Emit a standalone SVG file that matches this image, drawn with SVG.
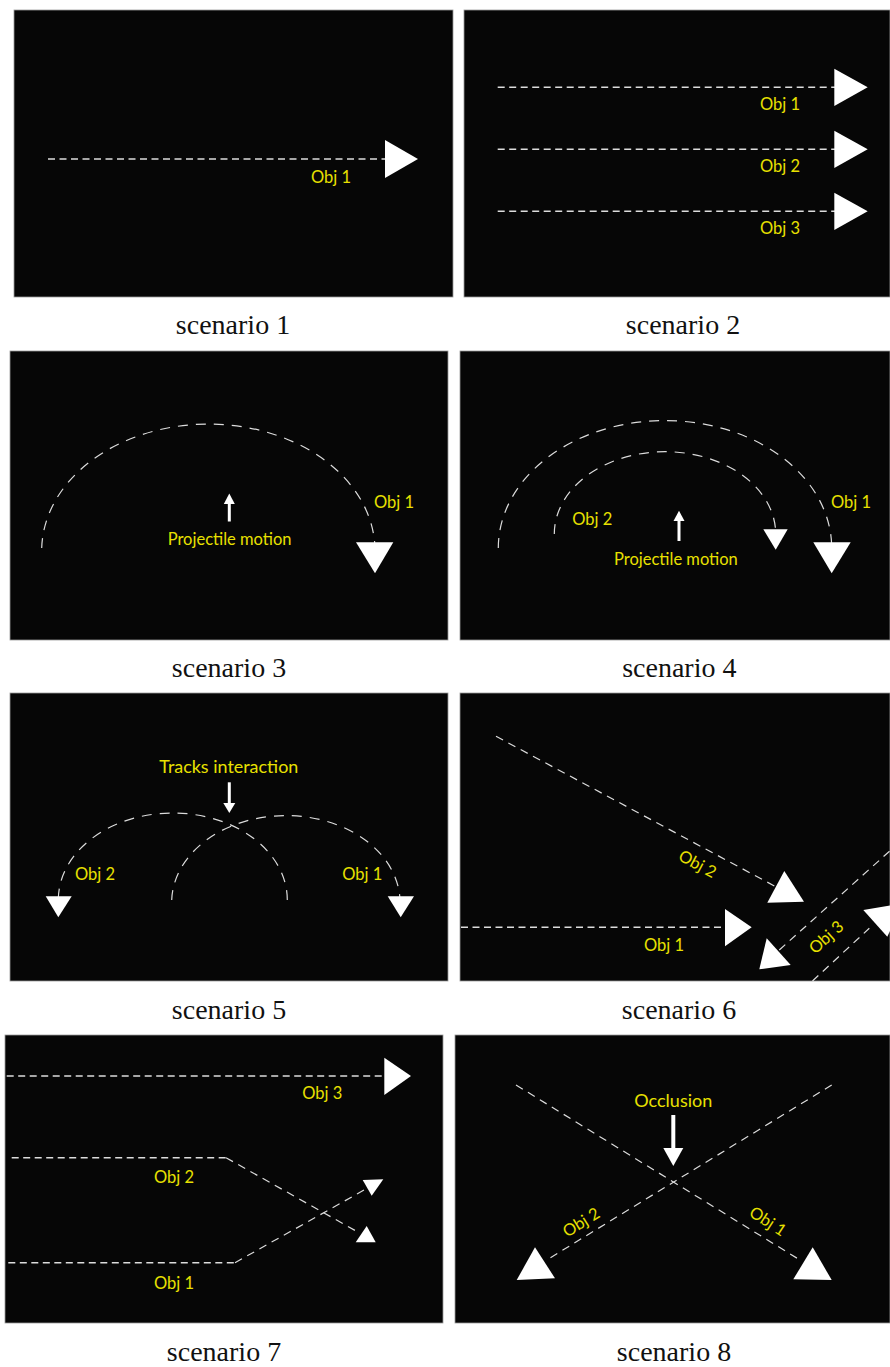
<svg xmlns="http://www.w3.org/2000/svg" width="890" height="1367" viewBox="0 0 890 1367">
  <style>
    .panel { fill: #060606; stroke: #9a9a9a; stroke-width: 0.8; }
    .track { fill: none; stroke: #dcdcdc; stroke-width: 1.4; stroke-dasharray: 7 4.5; }
    .arc { fill: none; stroke: #dcdcdc; stroke-width: 1.2; stroke-dasharray: 10 8; }
    .diag { fill: none; stroke: #dcdcdc; stroke-width: 1.2; stroke-dasharray: 8 6; }
    .head { fill: #ffffff; }
    .pointer { stroke: #ffffff; fill: none; }
    .lbl { font-family: Lato, "Open Sans", sans-serif; font-size: 16.5px; fill: #e8e000; }
    .cap { font-family: "Liberation Serif", serif; font-size: 28px; fill: #111111; text-anchor: middle; }
  </style>
  <rect width="890" height="1367" fill="#ffffff"/>

  <!-- scenario 1: single object, straight track -->
  <g id="scenario1">
    <rect class="panel" x="14" y="10" width="439" height="287"/>
    <g class="connectors">
      <path class="track" d="M48 159 H386"/>
      <polygon class="head" points="385,140 418,159 385,178"/>
    </g>
    <text class="lbl" x="311" y="182.7">Obj 1</text>
    <text class="cap" x="233" y="334">scenario 1</text>
  </g>

  <!-- scenario 2: three parallel tracks -->
  <g id="scenario2">
    <rect class="panel" x="464" y="10" width="426" height="287"/>
    <g class="connectors">
      <path class="track" d="M497.7 87.3 H835 M497.7 149.3 H835 M497.7 211.3 H835"/>
      <polygon class="head" points="834.3,68.7 867.7,87.3 834.3,106"/>
      <polygon class="head" points="834.3,130.7 867.7,149.3 834.3,168"/>
      <polygon class="head" points="834.3,192.7 867.7,211.3 834.3,230"/>
    </g>
    <text class="lbl" x="760" y="110">Obj 1</text>
    <text class="lbl" x="760" y="172">Obj 2</text>
    <text class="lbl" x="760" y="234">Obj 3</text>
    <text class="cap" x="683" y="334">scenario 2</text>
  </g>

  <!-- scenario 3: projectile motion -->
  <g id="scenario3">
    <rect class="panel" x="10" y="351" width="438" height="289"/>
    <g class="connectors">
      <path class="arc" d="M41.7 548 A166.7 127 0 0 1 375 548"/>
      <polygon class="head" points="356,542.3 393.3,542.3 375,573.3"/>
      <path class="pointer" stroke-width="3" d="M229.3 521.5 V502"/>
      <polygon class="head" points="223.8,504 229.3,493.5 234.8,504"/>
    </g>
    <text class="lbl" x="374" y="507.7">Obj 1</text>
    <text class="lbl" x="167.7" y="545">Projectile motion</text>
    <text class="cap" x="229" y="677">scenario 3</text>
  </g>

  <!-- scenario 4: two nested projectile tracks -->
  <g id="scenario4">
    <rect class="panel" x="460" y="351" width="430" height="289"/>
    <g class="connectors">
      <path class="arc" d="M498.3 548 A166.7 127.5 0 0 1 831.7 548"/>
      <path class="arc" d="M554.3 534 A110.7 82.3 0 0 1 775.7 534"/>
      <polygon class="head" points="813.3,542.3 850.7,542.3 831.7,573.3"/>
      <polygon class="head" points="763.3,529.3 787.7,529.3 775.7,549.7"/>
      <path class="pointer" stroke-width="3" d="M679 541 V519"/>
      <polygon class="head" points="673.5,521 679,510.7 684.5,521"/>
    </g>
    <text class="lbl" x="831" y="507.7">Obj 1</text>
    <text class="lbl" x="572.3" y="525">Obj 2</text>
    <text class="lbl" x="614" y="565">Projectile motion</text>
    <text class="cap" x="679.3" y="677">scenario 4</text>
  </g>

  <!-- scenario 5: crossing arcs -->
  <g id="scenario5">
    <rect class="panel" x="10" y="693" width="438" height="288"/>
    <g class="connectors">
      <path class="arc" d="M287.3 900 A114.5 87 0 0 0 58.3 900"/>
      <path class="arc" d="M171.7 900 A114.2 87 0 0 1 400 900"/>
      <polygon class="head" points="45.7,896.3 71.7,896.3 58.3,917.3"/>
      <polygon class="head" points="387.7,896.3 414,896.3 400.7,917.3"/>
      <path class="pointer" stroke-width="3" d="M229.3 782.3 V805"/>
      <polygon class="head" points="223.3,803 235.3,803 229.3,813"/>
    </g>
    <text class="lbl" x="159.3" y="773" textLength="139" lengthAdjust="spacingAndGlyphs">Tracks interaction</text>
    <text class="lbl" x="75" y="879.7">Obj 2</text>
    <text class="lbl" x="342.3" y="879.7">Obj 1</text>
    <text class="cap" x="229" y="1019">scenario 5</text>
  </g>

  <!-- scenario 6: converging tracks -->
  <g id="scenario6">
    <rect class="panel" x="460" y="693" width="430" height="288"/>
    <g class="connectors">
      <path class="track" d="M461 927.3 H727"/>
      <path class="diag" d="M496 736.3 L775 886.3"/>
      <path class="diag" d="M779.3 950 L890 850.8"/>
      <path class="diag" d="M812.5 981 L869.3 928.3"/>
      <polygon class="head" points="725,909 751.7,927.3 725,946.3"/>
      <polygon class="head" points="784.3,871 767.3,902.7 804,901.7"/>
      <polygon class="head" points="766.7,938.3 759.3,969.3 790.7,965"/>
      <polygon class="head" points="863.3,910 890,905.5 890,931 887.3,936.7"/>
    </g>
    <text class="lbl" x="644" y="951.3">Obj 1</text>
    <text class="lbl" text-anchor="middle" dominant-baseline="central" transform="translate(697.7 863.7) rotate(28)">Obj 2</text>
    <text class="lbl" text-anchor="middle" dominant-baseline="central" transform="translate(826 937) rotate(-42)">Obj 3</text>
    <text class="cap" x="679" y="1019">scenario 6</text>
  </g>

  <!-- scenario 7: tracks swapping lanes -->
  <g id="scenario7">
    <rect class="panel" x="5" y="1035" width="438" height="288"/>
    <g class="connectors">
      <path class="track" d="M6.7 1076 H385"/>
      <path class="track" d="M11.7 1157.7 H226"/>
      <path class="diag" d="M226 1157.7 L358.3 1232.3"/>
      <path class="track" d="M8.3 1262.7 H235"/>
      <path class="diag" d="M235 1262.7 L370 1186.7"/>
      <polygon class="head" points="384.3,1057.7 411,1076 384.3,1095"/>
      <polygon class="head" points="366.7,1226 355.7,1242.3 375.7,1242.3"/>
      <polygon class="head" points="362.7,1180 383.3,1179.3 371.7,1195.7"/>
    </g>
    <text class="lbl" x="302.3" y="1099">Obj 3</text>
    <text class="lbl" x="154" y="1183.3">Obj 2</text>
    <text class="lbl" x="154" y="1289.3">Obj 1</text>
    <text class="cap" x="224" y="1361">scenario 7</text>
  </g>

  <!-- scenario 8: occlusion at the crossing -->
  <g id="scenario8">
    <rect class="panel" x="455" y="1035" width="435" height="288"/>
    <g class="connectors">
      <path class="diag" d="M516 1085 L800 1260"/>
      <path class="diag" d="M831.7 1085 L546.7 1260"/>
      <polygon class="head" points="812.7,1247.3 793.3,1279.3 831.7,1280"/>
      <polygon class="head" points="535,1247.3 516.7,1280 555,1278.3"/>
      <path class="pointer" stroke-width="4" d="M673.3 1115 V1150"/>
      <polygon class="head" points="663.3,1148 683.3,1148 673.3,1166"/>
    </g>
    <text class="lbl" x="634.3" y="1107.3" textLength="78" lengthAdjust="spacingAndGlyphs">Occlusion</text>
    <text class="lbl" text-anchor="middle" dominant-baseline="central" transform="translate(581 1222) rotate(-32)">Obj 2</text>
    <text class="lbl" text-anchor="middle" dominant-baseline="central" transform="translate(768 1221) rotate(33)">Obj 1</text>
    <text class="cap" x="674" y="1361">scenario 8</text>
  </g>
</svg>
